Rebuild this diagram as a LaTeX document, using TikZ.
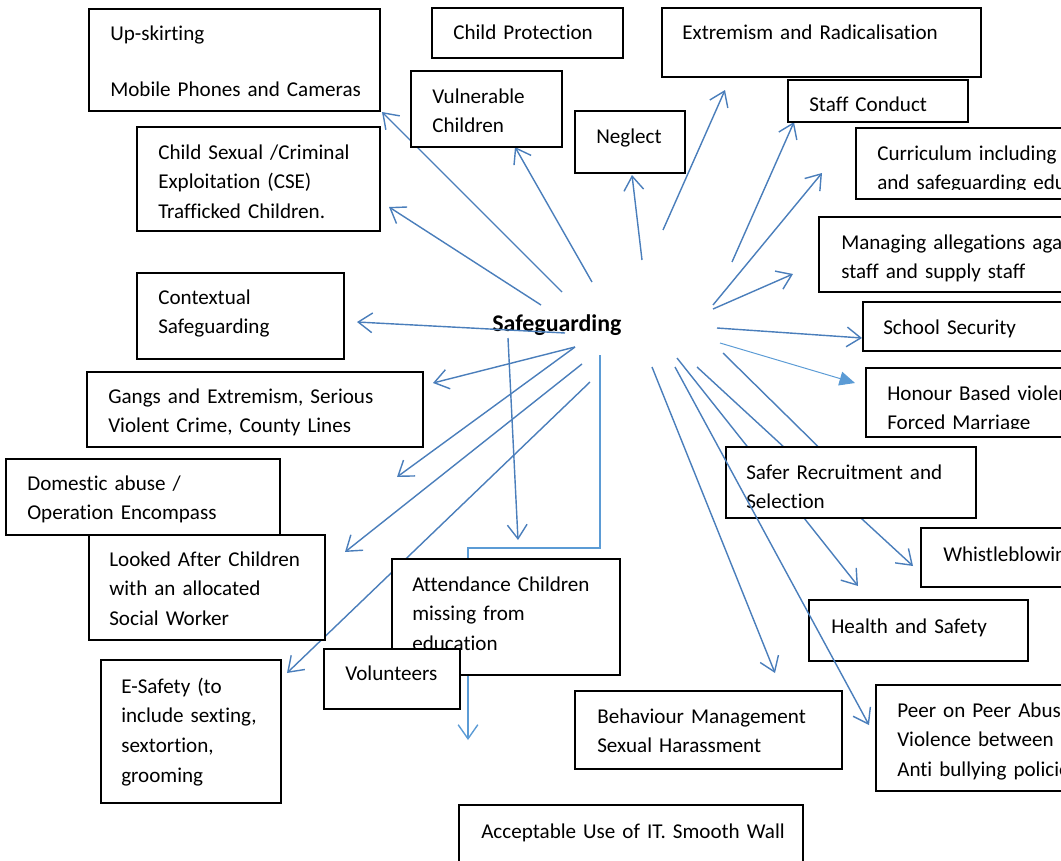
\documentclass[tikz,border=0pt]{standalone}
\usepackage{fontspec}
\setmainfont{Carlito}[Ligatures=NoCommon]
\usetikzlibrary{arrows.meta, fit}
\usetikzlibrary{positioning}
\usepackage{xcolor}
\definecolor{linkblue}{HTML}{4A7EBB}
\definecolor{paleblue}{HTML}{5B9BD5}

\begin{document}
\begin{tikzpicture}[x=0.025cm, y=-0.025cm,
		box/.style={draw=black, line width=1.3pt, fill=white, inner sep=0pt},
		txt/.style={anchor=base west, inner sep=0pt, text width=10cm, align=left, font=\fontsize{15}{21.3}\selectfont},
		arr/.style={draw=linkblue, line width=1pt, -{Straight Barb[length=10pt, width=14pt]}},
		thinarr/.style={draw=paleblue, line width=0.7pt, -{Triangle[length=11pt, width=10pt]}}]
		\useasboundingbox (0,0) rectangle (1061,861);
		\clip (0,0) rectangle (1061,861);
		% centre
		\node[anchor=base west, inner sep=0pt, font=\fontsize{17}{20}\selectfont\bfseries] (sg) at (492,331) {Safeguarding};
		% start and end points of the arrows
		\coordinate (s-upskirt) at (562,292); \coordinate (t-upskirt) at (382,112);
		\coordinate (s-cse) at (541,305); \coordinate (t-cse) at (389,207);
		\coordinate (s-vuln) at (592,282); \coordinate (t-vuln) at (515,147);
		\coordinate (s-neglect) at (642,260); \coordinate (t-neglect) at (632,175);
		\coordinate (s-extrem) at (663,230); \coordinate (t-extrem) at (725,90);
		\coordinate (s-staff) at (732,262); \coordinate (t-staff) at (794,122);
		\coordinate (s-curric) at (713,305); \coordinate (t-curric) at (822,173);
		\coordinate (s-manag) at (713,309); \coordinate (t-manag) at (793,274);
		\coordinate (s-secur) at (717,328); \coordinate (t-secur) at (862,338);
		\coordinate (s-honour) at (720,343); \coordinate (t-honour) at (855,383);
		\coordinate (s-safer) at (723,353); \coordinate (t-safer) at (850,478);
		\coordinate (s-whistle) at (697,367); \coordinate (t-whistle) at (913,566);
		\coordinate (s-health) at (677,358); \coordinate (t-health) at (858,586);
		\coordinate (s-peer) at (675,367); \coordinate (t-peer) at (869,725);
		\coordinate (s-behav) at (652,367); \coordinate (t-behav) at (775,673);
		\coordinate (s-context) at (565,333); \coordinate (t-context) at (357,322);
		\coordinate (s-gangs) at (575,347); \coordinate (t-gangs) at (433,383);
		\coordinate (s-domestic) at (575,347); \coordinate (t-domestic) at (397,477);
		\coordinate (s-lac) at (582,364); \coordinate (t-lac) at (345,552);
		\coordinate (s-esafety) at (590,382); \coordinate (t-esafety) at (287,673);
		\coordinate (s-attend) at (508,338); \coordinate (t-attend) at (518,540);
		\coordinate (s-volunt) at (600,355); \coordinate (k-volunt) at (468,548); \coordinate (t-volunt) at (468,740);
		% arrows under the boxes
		\foreach \n in {upskirt, cse, vuln, neglect, extrem, staff, curric, manag, secur, safer, whistle, health, behav, context, gangs, domestic, lac, esafety, attend}
			\draw[arr] (s-\n) -- (t-\n);
		\draw[thinarr] (s-honour) -- (t-honour);
		\draw[arr, draw=paleblue] (s-volunt) |- (k-volunt) -- (t-volunt);
		% boxes, left side
		\node[box, fit={(89,9) (380,111)}] (upskirt) {};
		\node[txt] (upskirt-t) at (110,40) {Up-skirting\\[0.675cm]Mobile Phones and Cameras};
		\node[box, fit={(137,127) (380,231)}] (cse) {};
		\node[txt] (cse-t) at (158,159) {Child Sexual /Criminal\\Exploitation (CSE)\\Trafficked Children.};
		\node[box, fit={(137,273) (344,359)}] (context) {};
		\node[txt] (context-t) at (158,304) {Contextual\\Safeguarding};
		\node[box, fit={(87,372) (423,447)}] (gangs) {};
		\node[txt] (gangs-t) at (108,403) {Gangs and Extremism, Serious\\Violent Crime, County Lines};
		\node[box, fit={(6,459) (280,535)}] (domestic) {};
		\node[txt] (domestic-t) at (27,490) {Domestic abuse /\\Operation Encompass};
		\node[box, fit={(89,535) (325,640)}] (lac) {};
		\node[txt] (lac-t) at (109,566) {Looked After Children\\with an allocated\\Social Worker};
		\node[box, fit={(101,660) (281,803)}] (esafety) {};
		\node[txt] (esafety-t) at (121,693) {E-Safety (to\\include sexting,\\sextortion,\\grooming};
		% boxes, top
		\node[box, fit={(432,8) (623,58)}] (childprot) {};
		\node[txt] (childprot-t) at (453,39) {Child Protection};
		\node[box, fit={(411,71) (562,147)}] (vuln) {};
		\node[txt] (vuln-t) at (432,103) {Vulnerable\\Children};
		\node[box, fit={(575,111) (685,173)}] (neglect) {};
		\node[txt] (neglect-t) at (596,143) {Neglect};
		\node[box, fit={(662,8) (981,77)}] (extrem) {};
		\node[txt] (extrem-t) at (682,39) {Extremism and Radicalisation};
		\node[box, fit={(788,80) (968,122)}] (staff) {};
		\node[txt] (staff-t) at (809,111) {Staff Conduct};
		% boxes, right side
		\node[box, fit={(856,128) (1090,199)}] (curric) {};
		\begin{scope}
			\clip (856,128) rectangle (1090,189);
			\node[txt] (curric-t) at (877,160) {Curriculum including\\and safeguarding education};
		\end{scope}
		\node[box, fit={(819,217) (1090,292)}] (manag) {};
		\node[txt] (manag-t) at (841,249) {Managing allegations against\\staff and supply staff};
		\node[box, fit={(863,302) (1090,351)}] (secur) {};
		\node[txt] (secur-t) at (883,334) {School Security};
		\node[box, fit={(866,368) (1090,437)}] (honour) {};
		\begin{scope}
			\clip (866,368) rectangle (1090,428);
			\node[txt] (honour-t) at (887,400) {Honour Based violence\\Forced Marriage};
		\end{scope}
		\node[box, fit={(726,447) (976,518)}] (safer) {};
		\node[txt] (safer-t) at (746,479) {Safer Recruitment and\\Selection};
		\node[box, fit={(921,528) (1090,587)}] (whistle) {};
		\node[txt] (whistle-t) at (943,561) {Whistleblowing};
		\node[box, fit={(809,600) (1028,661)}] (health) {};
		\node[txt] (health-t) at (831,633) {Health and Safety};
		\node[box, fit={(876,685) (1090,791)}] (peer) {};
		\node[txt] (peer-t) at (897,717) {Peer on Peer Abuse\\Violence between pupils\\Anti bullying policies};
		% boxes, bottom
		\node[box, fit={(575,691) (842,769)}] (behav) {};
		\node[txt] (behav-t) at (597,723) {Behaviour Management\\Sexual Harassment};
		\node[box, fit={(459,805) (803,866)}] (accept) {};
		\node[txt] (accept-t) at (481,838) {Acceptable Use of IT. Smooth Wall};
		\node[box, fit={(392,559) (620,675)}] (attend) {};
		\node[txt] (attend-t) at (412,591) {Attendance Children\\missing from\\education};
		\node[box, fit={(324,649) (460,709)}] (volunt) {};
		\node[txt] (volunt-t) at (345,680) {Volunteers};
		% this one runs over the boxes
		\draw[arr] (s-peer) -- (t-peer);
	\end{tikzpicture}
\end{document}
